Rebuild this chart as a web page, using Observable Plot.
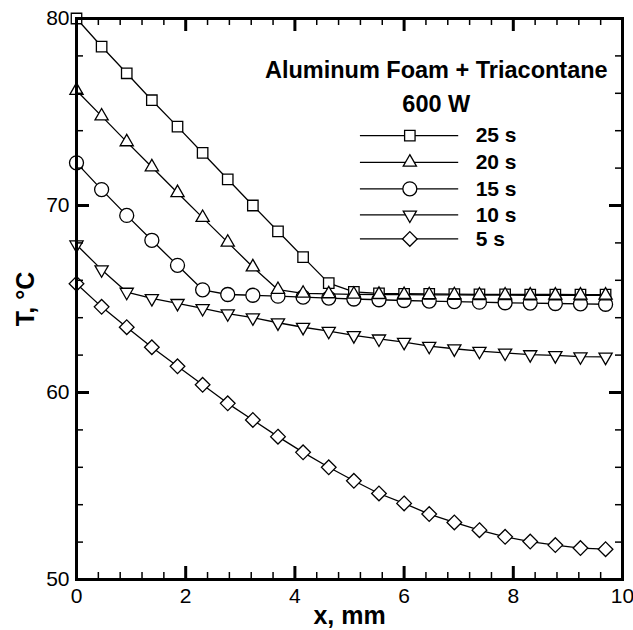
<!DOCTYPE html>
<html><head><meta charset="utf-8">
<script src="https://cdn.jsdelivr.net/npm/d3@7"></script>
<script src="https://cdn.jsdelivr.net/npm/@observablehq/plot@0.6"></script>
<style>html,body{margin:0;padding:0;background:#fff} svg{display:block}</style>
</head><body><div id="chart"></div>
<script>
// ---- data ----
const xPos = [0, 0.46, 0.92, 1.38, 1.85, 2.31, 2.77, 3.23, 3.69, 4.15, 4.62, 5.08, 5.54, 6.00, 6.46, 6.92, 7.38, 7.85, 8.31, 8.77, 9.23, 9.69];
const t25s = [80.0, 78.5, 77.07, 75.63, 74.22, 72.81, 71.4, 70.0, 68.62, 67.24, 65.85, 65.38, 65.3, 65.28, 65.27, 65.26, 65.25, 65.25, 65.24, 65.24, 65.23, 65.23];
const t20s = [76.15, 74.78, 73.4, 72.06, 70.68, 69.35, 68.03, 66.71, 65.5, 65.3, 65.27, 65.25, 65.24, 65.23, 65.22, 65.22, 65.21, 65.21, 65.2, 65.2, 65.2, 65.2];
const t15s = [72.28, 70.85, 69.47, 68.14, 66.8, 65.49, 65.24, 65.2, 65.15, 65.1, 65.05, 65.0, 64.96, 64.92, 64.89, 64.86, 64.83, 64.8, 64.78, 64.76, 64.74, 64.72];
const t10s = [67.9, 66.57, 65.37, 65.03, 64.77, 64.5, 64.22, 64.0, 63.73, 63.49, 63.28, 63.05, 62.87, 62.69, 62.48, 62.34, 62.21, 62.12, 62.03, 61.98, 61.92, 61.9];
const t5s  = [65.82, 64.58, 63.49, 62.42, 61.4, 60.41, 59.42, 58.53, 57.64, 56.8, 56.0, 55.28, 54.6, 54.07, 53.5, 53.05, 52.64, 52.28, 52.03, 51.84, 51.68, 51.62];
const seriesLabels = ["25 s", "20 s", "15 s", "10 s", "5 s"];
const titleLines = ["Aluminum Foam + Triacontane", "600 W"];
const xLabel = "x, mm";
const yLabel = "T, °C";
const xMajorTicks = [0, 2, 4, 6, 8, 10];
const xMinorTicks = [0.4, 0.8, 1.2, 1.6, 2.4, 2.8, 3.2, 3.6, 4.4, 4.8, 5.2, 5.6, 6.4, 6.8, 7.2, 7.6, 8.4, 8.8, 9.2, 9.6];
const yMajorTicks = [50, 60, 70, 80];
const yMinorTicks = [52, 54, 56, 58, 62, 64, 66, 68, 72, 74, 76, 78];

// ---- layout ----
const W = 633, H = 630;
const mL = 76, mR = 11, mT = 18, mB = 51;
const pw = W - mL - mR, ph = H - mT - mB;
const majLen = 13, minLen = 7;

const triangleDown = {
  draw(context, size) {
    const y = -Math.sqrt(size / (Math.sqrt(3) * 3));
    context.moveTo(0, -y * 2);
    context.lineTo(-Math.sqrt(3) * y, y);
    context.lineTo(Math.sqrt(3) * y, y);
    context.closePath();
  }
};

const seriesValues = [t25s, t20s, t15s, t10s, t5s];
const seriesStyle = [
  {symbol: "square", r: 5.9},
  {symbol: "triangle", r: 4.9},
  {symbol: "circle", r: 7},
  {symbol: triangleDown, r: 4.9},
  {symbol: "diamond2", r: 6.6}
];

// legend placement (data units of the plot frame)
const legX1 = 5.2, legX2 = 7.0, legMarkX = 6.105, legTextX = 7.31;
const legRowsY = [73.74, 72.31, 70.89, 69.5, 68.21];
const titleX = 6.59, titleY = [77.22, 75.4];

const marks = [];
// draw order: 5 s first, up to 20 s last
const order = [4, 3, 2, 0, 1];
for (const k of order) {
  const pts = xPos.map((x, i) => ({x, y: seriesValues[k][i]}));
  marks.push(Plot.line(pts, {x: "x", y: "y", stroke: "black", strokeWidth: 1.3}));
  marks.push(Plot.dot(pts, {x: "x", y: "y", symbol: seriesStyle[k].symbol, r: seriesStyle[k].r,
    stroke: "black", strokeWidth: 1.3, fill: "white"}));
}

// legend
seriesLabels.forEach((lab, k) => {
  const row = [{y: legRowsY[k], label: lab}];
  marks.push(Plot.ruleY(row, {y: "y", x1: legX1, x2: legX2, stroke: "black", strokeWidth: 1.3}));
  marks.push(Plot.dot(row, {x: () => legMarkX, y: "y", symbol: seriesStyle[k].symbol, r: seriesStyle[k].r,
    stroke: "black", strokeWidth: 1.3, fill: "white"}));
  marks.push(Plot.text(row, {x: () => legTextX, y: "y", text: "label", textAnchor: "start",
    lineAnchor: "middle", fontSize: 21, fontWeight: "bold", fill: "black"}));
});
marks.push(Plot.text(titleLines.map((t, i) => ({t, y: titleY[i]})), {
  x: () => titleX, y: "y", text: "t", textAnchor: "middle", lineAnchor: "middle",
  fontSize: 23.5, fontWeight: "bold", fill: "black"}));

// axis tick labels
marks.push(Plot.axisX(xMajorTicks, {anchor: "bottom", tickSize: 0, tickPadding: 9, fontSize: 21, label: null, tickFormat: d => String(d)}));
marks.push(Plot.axisY(yMajorTicks, {anchor: "left", tickSize: 0, tickPadding: 7, fontSize: 21, label: null, tickFormat: d => String(d)}));

// axis titles
marks.push(Plot.text([xLabel], {frameAnchor: "bottom", dy: 44, lineAnchor: "bottom", textAnchor: "middle",
  fontSize: 25, fontWeight: "bold", fill: "black"}));
marks.push(Plot.text([yLabel], {frameAnchor: "left", dx: -43, rotate: -90, lineAnchor: "bottom", textAnchor: "middle",
  fontSize: 25, fontWeight: "bold", fill: "black"}));

// inward ticks on all four sides
marks.push(Plot.tickX(xMajorTicks, {x: d => d, insetTop: ph - majLen, stroke: "black", strokeWidth: 3}));
marks.push(Plot.tickX(xMajorTicks, {x: d => d, insetBottom: ph - majLen, stroke: "black", strokeWidth: 3}));
marks.push(Plot.tickX(xMinorTicks, {x: d => d, insetTop: ph - minLen, stroke: "black", strokeWidth: 1.5}));
marks.push(Plot.tickX(xMinorTicks, {x: d => d, insetBottom: ph - minLen, stroke: "black", strokeWidth: 1.5}));
marks.push(Plot.tickY(yMajorTicks, {y: d => d, insetRight: pw - majLen, stroke: "black", strokeWidth: 3}));
marks.push(Plot.tickY(yMajorTicks, {y: d => d, insetLeft: pw - majLen, stroke: "black", strokeWidth: 3}));
marks.push(Plot.tickY(yMinorTicks, {y: d => d, insetRight: pw - minLen, stroke: "black", strokeWidth: 1.5}));
marks.push(Plot.tickY(yMinorTicks, {y: d => d, insetLeft: pw - minLen, stroke: "black", strokeWidth: 1.5}));
marks.push(Plot.frame({stroke: "black", strokeWidth: 3}));

const chart = Plot.plot({
  width: W, height: H,
  marginLeft: mL, marginRight: mR, marginTop: mT, marginBottom: mB,
  x: {domain: [0, 10]},
  y: {domain: [50, 80]},
  style: {fontFamily: "'Liberation Sans', Arial, Helvetica, sans-serif", color: "black", background: "white", overflow: "visible"},
  marks
});
document.getElementById("chart").appendChild(chart);
</script>
</body></html>
